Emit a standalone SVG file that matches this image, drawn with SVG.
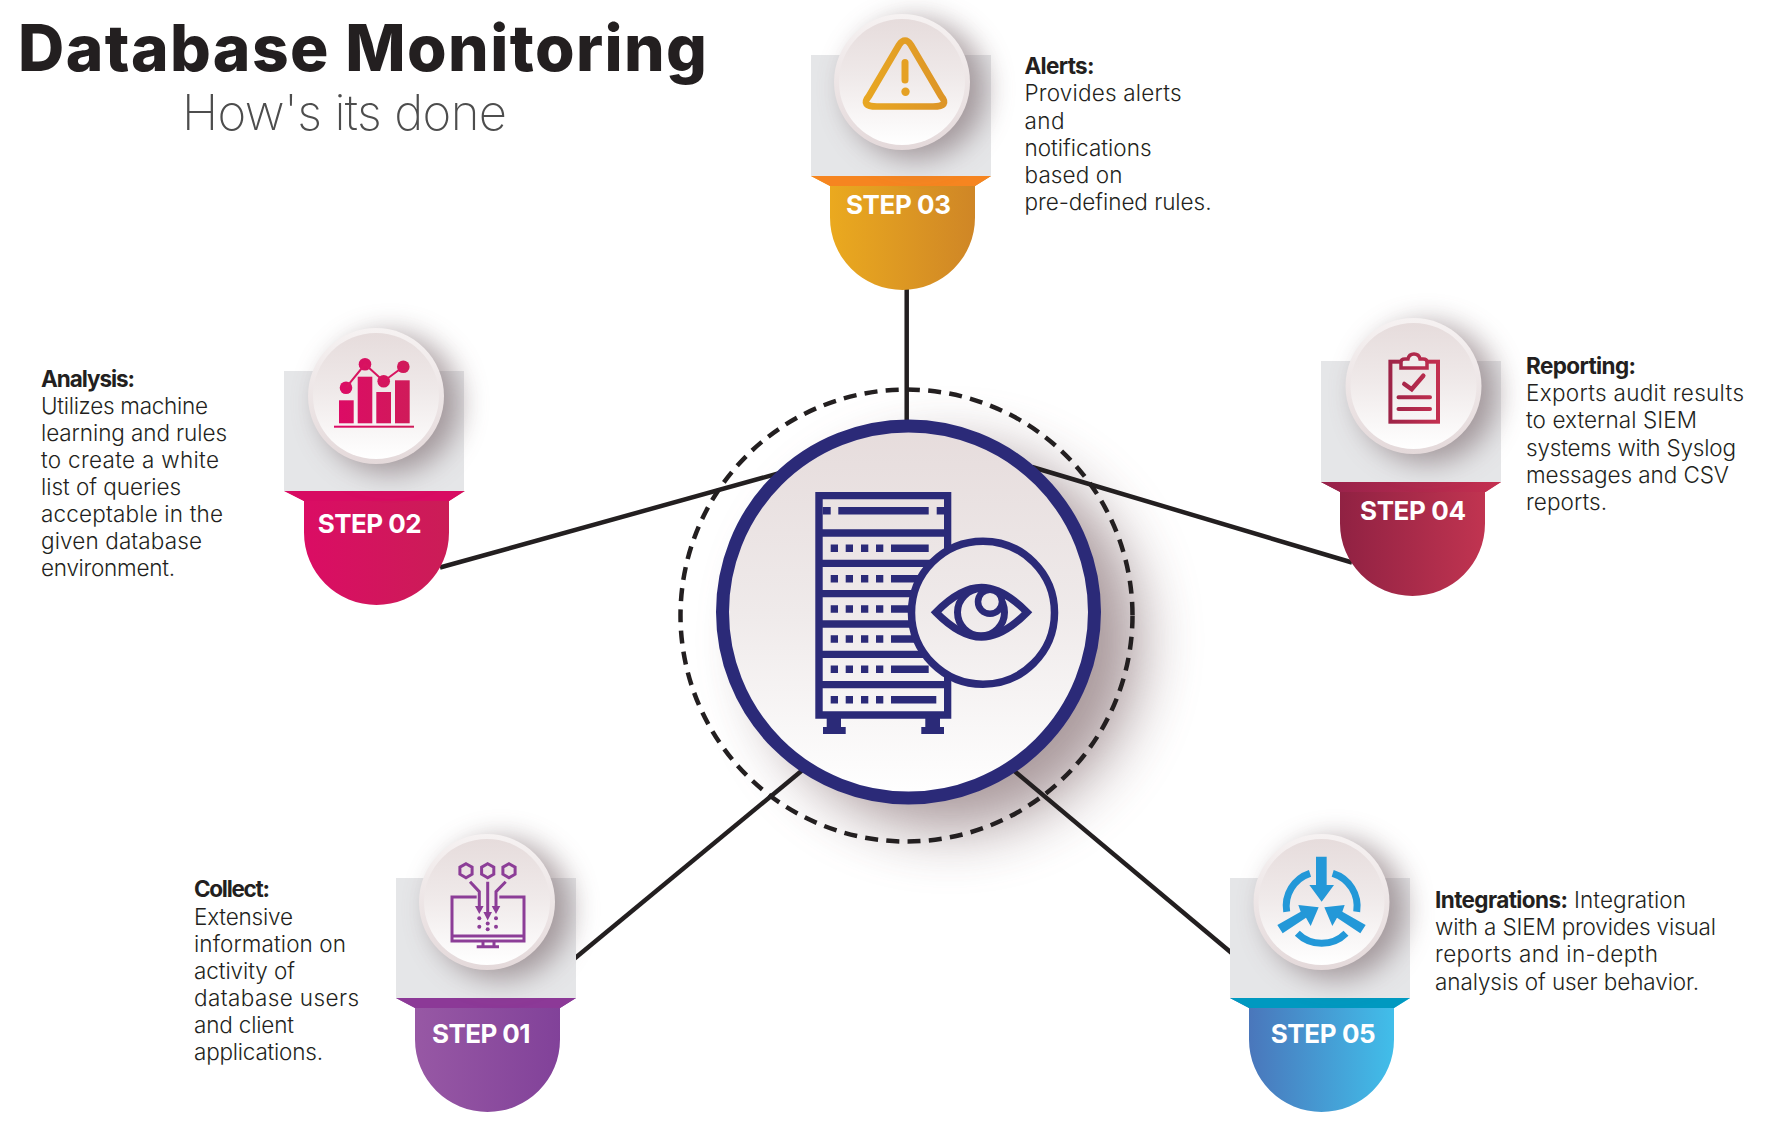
<svg xmlns="http://www.w3.org/2000/svg" width="1772" height="1128" viewBox="0 0 1772 1128">
<style>
text{font-family:Inter,"Liberation Sans",sans-serif;fill:#231f20}
.t{font-size:22.500px;font-weight:300}
.b{font-size:22.500px;font-weight:700}
.s{font-size:26px;font-weight:700;fill:#fff}
.ln{stroke:#231f20;stroke-width:4.500;fill:none}
.box{fill:#e5e6e8}
.rack{fill:#2b2a78}
</style>
<defs>
<linearGradient id="disc" x1="0" y1="0" x2="0" y2="1"><stop offset="0" stop-color="#e6dcdc"/><stop offset="0.45" stop-color="#efe9e9"/><stop offset="1" stop-color="#fff"/></linearGradient>
<linearGradient id="hubfill" gradientUnits="userSpaceOnUse" x1="0" y1="425" x2="0" y2="799"><stop offset="0" stop-color="#e6dcdc"/><stop offset="0.5" stop-color="#efeaea"/><stop offset="1" stop-color="#fff"/></linearGradient>
<linearGradient id="rim" x1="0" y1="0" x2="0" y2="1"><stop offset="0" stop-color="#f6f2f2"/><stop offset="1" stop-color="#e4d9da"/></linearGradient>
<linearGradient id="g1"><stop offset="0" stop-color="#9a5ba6"/><stop offset="1" stop-color="#7f3f98"/></linearGradient>
<linearGradient id="g2"><stop offset="0" stop-color="#dd0a66"/><stop offset="1" stop-color="#c91f55"/></linearGradient>
<linearGradient id="g3"><stop offset="0" stop-color="#eeae1e"/><stop offset="1" stop-color="#cc8227"/></linearGradient>
<linearGradient id="g4"><stop offset="0" stop-color="#8a1f41"/><stop offset="1" stop-color="#c63652"/></linearGradient>
<linearGradient id="g4b"><stop offset="0" stop-color="#96214a"/><stop offset="1" stop-color="#c43050"/></linearGradient>
<linearGradient id="g5"><stop offset="0" stop-color="#4b6db5"/><stop offset="1" stop-color="#40c6ef"/></linearGradient>
<linearGradient id="gi2" gradientUnits="userSpaceOnUse" x1="334" y1="0" x2="414" y2="0"><stop offset="0" stop-color="#dd0a66"/><stop offset="1" stop-color="#cf1c59"/></linearGradient>
<linearGradient id="gi4" gradientUnits="userSpaceOnUse" x1="1388" y1="0" x2="1440" y2="0"><stop offset="0" stop-color="#9c2347"/><stop offset="1" stop-color="#c43050"/></linearGradient>
<linearGradient id="gi3" gradientUnits="userSpaceOnUse" x1="863" y1="0" x2="946" y2="0"><stop offset="0" stop-color="#e8a722"/><stop offset="1" stop-color="#dd9527"/></linearGradient>
<filter id="soft" x="-50%" y="-50%" width="200%" height="200%"><feGaussianBlur stdDeviation="14"/></filter>
<filter id="softbig" x="-40%" y="-40%" width="180%" height="180%"><feGaussianBlur stdDeviation="30"/></filter>
<path id="tab" d="M0 121H180L164 131V162.500A72.500 72.500 0 0 1 19 162.500V131Z"/>
<g id="disc-shape">
<circle cx="14" cy="7" r="70" fill="#6e5a5e" opacity=".55" filter="url(#soft)"/>
<circle r="68" fill="url(#rim)"/>
<circle r="63" fill="url(#disc)"/>
</g>
</defs>
<rect width="1772" height="1128" fill="#fff"/>
<g id="title">
<text x="18" y="71" font-size="64" font-weight="800" textLength="689">Database Monitoring</text>
<text x="182" y="130" font-size="49" style="font-weight:200;fill:#4d4d4d" textLength="325">How's its done</text>
</g>
<g id="hub-backdrop">
<circle cx="950" cy="640" r="190" fill="#7d6467" opacity=".65" filter="url(#softbig)"/>
<circle cx="906.500" cy="615.500" r="226" fill="none" stroke="#231f20" stroke-width="4.500" stroke-dasharray="13 8.300"/>
</g>
<g id="connectors">
<line class="ln" x1="910" y1="285" x2="910" y2="425" transform="translate(-3.300 0)"/>
<line class="ln" x1="440" y1="567.500" x2="780" y2="473"/>
<line class="ln" x1="1032" y1="467" x2="1352" y2="562.500"/>
<line class="ln" x1="805" y1="768" x2="574" y2="959"/>
<line class="ln" x1="1012" y1="769" x2="1234" y2="955"/>
</g>
<g id="hub">
<circle cx="908.500" cy="612" r="186" fill="url(#hubfill)" stroke="#2b2a78" stroke-width="13"/>
<g class="rack">
<path fill-rule="evenodd" d="M815.300 492H951.300V718.700H815.300ZM822.700 499.300V529.300H944V499.300ZM822.700 536.700V559.700H944V536.700ZM822.700 567V590H944V567ZM822.700 597.300V620.300H944V597.300ZM822.700 627.700V650.700H944V627.700ZM822.700 658V681H944V658ZM822.700 688.300V711.300H944V688.300Z"/>
<path d="M822.700 507H830.700V514.500H822.700ZM838.300 507H928.700V514.500H838.300ZM936.700 507H944V514.500H936.700Z"/>
<path d="M830.700 544.600H838V552H830.700ZM845.700 544.600H853V552H845.700ZM861 544.600H868.300V552H861ZM876 544.600H883.300V552H876ZM891 544.600H928.700V552H891Z"/>
<path d="M830.700 575H838V582.400H830.700ZM845.700 575H853V582.400H845.700ZM861 575H868.300V582.400H861ZM876 575H883.300V582.400H876ZM891 575H928.700V582.400H891Z"/>
<path d="M830.700 605.300H838V612.700H830.700ZM845.700 605.300H853V612.700H845.700ZM861 605.300H868.300V612.700H861ZM876 605.300H883.300V612.700H876ZM891 605.300H928.700V612.700H891Z"/>
<path d="M830.700 635.300H838V642.700H830.700ZM845.700 635.300H853V642.700H845.700ZM861 635.300H868.300V642.700H861ZM876 635.300H883.300V642.700H876ZM891 635.300H928.700V642.700H891Z"/>
<path d="M830.700 665.600H838V673H830.700ZM845.700 665.600H853V673H845.700ZM861 665.600H868.300V673H861ZM876 665.600H883.300V673H876ZM891 665.600H928.700V673H891Z"/>
<path d="M830.700 696H838V703.400H830.700ZM845.700 696H853V703.400H845.700ZM861 696H868.300V703.400H861ZM876 696H883.300V703.400H876ZM891 696H936.300V703.400H891Z"/>
<path d="M826.700 718H841V727H845.700V734H823V727H826.700ZM925.300 718H940V727H944V734H921.300V727H925.300Z"/>
</g>
<circle cx="983" cy="612.700" r="71.500" fill="url(#hubfill)" stroke="#2b2a78" stroke-width="7.500"/>
<path d="M936 612.300C954 594 969 587.500 981.500 587.500C994 587.500 1009 594 1027 612.300C1009 630.500 994 637 981.500 637C969 637 954 630.500 936 612.300Z" fill="none" stroke="#2b2a78" stroke-width="7.500"/>
<circle cx="981" cy="612.300" r="23.500" fill="url(#hubfill)" stroke="#2b2a78" stroke-width="7"/>
<circle cx="990" cy="601.700" r="12" fill="url(#hubfill)" stroke="#2b2a78" stroke-width="6.500"/>
</g>
<g id="step-01">
<rect class="box" x="396" y="878" width="180" height="120"/>
<use href="#tab" x="396" y="877" fill="url(#g1)"/>
<path d="M396 998H576L560 1008H415Z" fill="#8c3997"/>
<use href="#disc-shape" x="487" y="902"/>
<g fill="none" stroke="#8c3d97" stroke-width="3">
<path d="M466 863.700L472.100 867.200V874.200L466 877.700L459.900 874.200V867.200Z"/>
<path d="M487.700 863.700L493.800 867.200V874.200L487.700 877.700L481.600 874.200V867.200Z"/>
<path d="M509 863.700L515.100 867.200V874.200L509 877.700L502.900 874.200V867.200Z"/>
<path d="M476.700 897H452V941H524V897H499.300"/>
<path d="M452 936H524"/>
<path d="M476.700 946.700H499M483 941V946.700M494 941V946.700"/>
<path d="M470 881.700L479.300 891.700V908M505.700 881.700L496 891.700V908M487.700 881.700V913"/>
</g>
<g fill="#8c3d97">
<path d="M475 906H483.600L479.300 914ZM491.700 906H500.300L496 914ZM483.400 912H492L487.700 920.500Z"/>
<circle cx="479.300" cy="918.300" r="2"/><circle cx="496" cy="918.300" r="2"/><circle cx="487.700" cy="923.500" r="2"/><circle cx="479.300" cy="926.700" r="2"/><circle cx="496" cy="926.700" r="2"/><circle cx="487.700" cy="929.300" r="2"/>
</g>
<text class="s" x="432" y="1042.700" textLength="98.400">STEP 01</text>
<text class="b" x="194" y="896.700" textLength="76">Collect:</text>
<text class="t" x="194" y="925" textLength="99">Extensive</text>
<text class="t" x="194" y="951.700" textLength="152">information on</text>
<text class="t" x="194" y="979" textLength="101">activity of</text>
<text class="t" x="194" y="1005.700" textLength="165">database users</text>
<text class="t" x="194" y="1032.700" textLength="100">and client</text>
<text class="t" x="194" y="1060" textLength="129">applications.</text>
</g>
<g id="step-02">
<rect class="box" x="284" y="371" width="180" height="120"/>
<use href="#tab" x="285" y="370" fill="url(#g2)"/>
<path d="M284 491H464L449 501H304Z" fill="#d80b62"/>
<use href="#disc-shape" x="376" y="396"/>
<g fill="url(#gi2)">
<rect x="339" y="400.300" width="14.700" height="23"/><rect x="357.700" y="376.700" width="14.600" height="46.600"/><rect x="376.300" y="392" width="14.700" height="31.300"/><rect x="395" y="380.300" width="14.700" height="43"/>
<rect x="334" y="425.700" width="80" height="2"/>
<circle cx="346" cy="387.700" r="6.300"/><circle cx="365" cy="364.300" r="6.300"/><circle cx="383.700" cy="381.300" r="6.300"/><circle cx="403.300" cy="366.700" r="6.300"/>
</g>
<polyline points="346,387.700 365,364.300 383.700,381.300 403.300,366.700" fill="none" stroke="#d81460" stroke-width="2"/>
<text class="s" x="317.700" y="532.700" textLength="104">STEP 02</text>
<text class="b" x="41" y="386.700" textLength="94">Analysis:</text>
<text class="t" x="41" y="414" textLength="167">Utilizes machine</text>
<text class="t" x="41" y="440.700" textLength="186">learning and rules</text>
<text class="t" x="41" y="468" textLength="178">to create a white</text>
<text class="t" x="41" y="494.700" textLength="140">list of queries</text>
<text class="t" x="41" y="521.700" textLength="182">acceptable in the</text>
<text class="t" x="41" y="549" textLength="161">given database</text>
<text class="t" x="41" y="575.700" textLength="134">environment.</text>
</g>
<g id="step-03">
<rect class="box" x="811" y="55" width="180" height="121"/>
<use href="#tab" x="811" y="55" fill="url(#g3)"/>
<path d="M811 176H991L975 186H830Z" fill="#f68520"/>
<use href="#disc-shape" x="902" y="82"/>
<path d="M899 45Q905 36 911 45L941 96Q950 106.500 933 106.500H877Q860 106.500 869 96Z" fill="none" stroke="url(#gi3)" stroke-width="6.700"/>
<line x1="905" y1="62.500" x2="905" y2="80" stroke="#e5a124" stroke-width="7" stroke-linecap="round"/>
<circle cx="905.500" cy="91.700" r="4.200" fill="#e5a124"/>
<text class="s" x="846" y="214.300" textLength="105">STEP 03</text>
<text class="b" x="1024.500" y="74" textLength="70">Alerts:</text>
<text class="t" x="1024.500" y="101" textLength="157">Provides alerts</text>
<text class="t" x="1024.500" y="128.700" textLength="40">and</text>
<text class="t" x="1024.500" y="155.700" textLength="127">notifications</text>
<text class="t" x="1024.500" y="183" textLength="98">based on</text>
<text class="t" x="1024.500" y="210" textLength="187">pre-defined rules.</text>
</g>
<g id="step-04">
<rect class="box" x="1321" y="361" width="180" height="121"/>
<use href="#tab" x="1321" y="361" fill="url(#g4)"/>
<path d="M1321 482H1501L1485.700 492H1340.300Z" fill="url(#g4b)"/>
<use href="#disc-shape" x="1413.500" y="386"/>
<g fill="none" stroke="url(#gi4)">
<rect x="1390.400" y="361.700" width="47.600" height="60" stroke-width="4"/>
<path d="M1401 368V362Q1401 359 1405 359H1408Q1409 354 1414 354Q1419 354 1420 359H1423Q1427 359 1427 362V368Z" fill="#f1ecec" stroke-width="3.500"/>
<path d="M1404.300 384L1411.700 389.300L1423.300 375.700" stroke-width="4.500" stroke-linecap="round"/>
<path d="M1398.500 397.300H1430M1398.500 409H1430" stroke-width="4" stroke-linecap="round"/>
</g>
<text class="s" x="1360" y="520" textLength="106">STEP 04</text>
<text class="b" x="1526" y="374" textLength="110">Reporting:</text>
<text class="t" x="1526" y="400.700" textLength="218">Exports audit results</text>
<text class="t" x="1526" y="428.300" textLength="171">to external SIEM</text>
<text class="t" x="1526" y="455.700" textLength="210">systems with Syslog</text>
<text class="t" x="1526" y="482.700" textLength="203">messages and CSV</text>
<text class="t" x="1526" y="510" textLength="81">reports.</text>
</g>
<g id="step-05">
<rect class="box" x="1230" y="878" width="180" height="120"/>
<use href="#tab" x="1230" y="877" fill="url(#g5)"/>
<path d="M1230 998H1410L1394 1008H1249Z" fill="#0099c0"/>
<use href="#disc-shape" x="1321.500" y="902"/>
<g fill="none" stroke="#2398d8" stroke-width="7">
<path d="M1310 873.300A34.500 34.500 0 0 0 1286.700 911.700"/>
<path d="M1332.700 873.300A34.500 34.500 0 0 1 1356.700 911.700"/>
<path d="M1297.300 933.300A34.500 34.500 0 0 0 1346 933.300"/>
</g>
<g fill="#2398d8" transform="translate(1220 830) scale(.33333)">
<path d="M288 80H320V165H342L305 215L268 165H288Z"/>
<path d="M296 232L272 288L258 263L188 310L172 285L242 245L235 225Z"/>
<path d="M313 232L337 288L351 263L421 310L437 285L367 245L374 225Z"/>
</g>
<text class="s" x="1270.700" y="1042.700" textLength="105">STEP 05</text>
<text class="b" x="1435" y="908.300" textLength="133">Integrations:</text>
<text class="t" x="1574" y="908.300" textLength="112">Integration</text>
<text class="t" x="1435" y="935" textLength="281">with a SIEM provides visual</text>
<text class="t" x="1435" y="962.300" textLength="223">reports and in-depth</text>
<text class="t" x="1435" y="990" textLength="264">analysis of user behavior.</text>
</g>
</svg>
